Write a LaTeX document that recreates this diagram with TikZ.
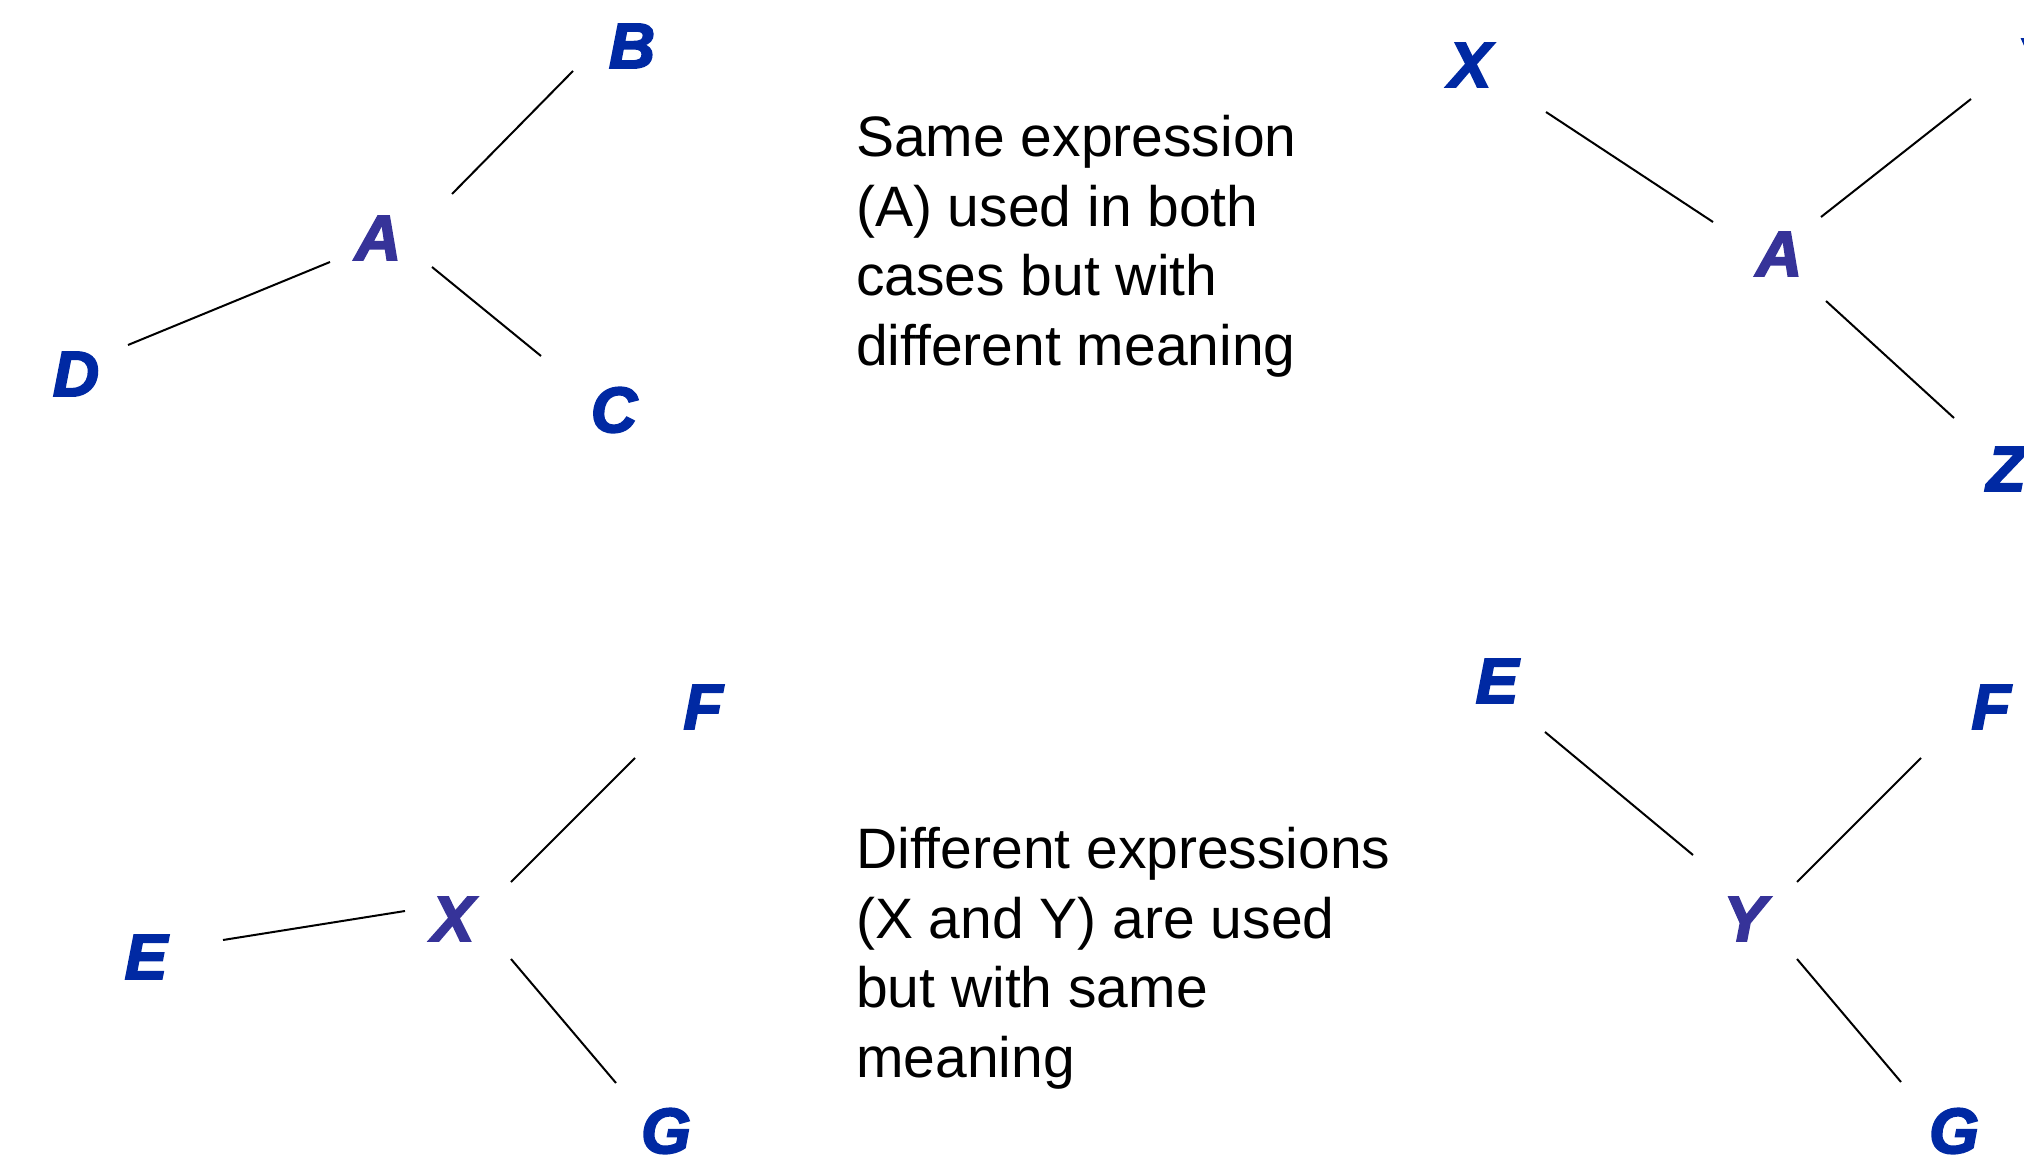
\documentclass[tikz,border=0pt]{standalone}
\usepackage{fontspec}
\setmainfont{Liberation Sans}
\newfontfamily\letterfont{Liberation Sans Bold Italic}[FakeBold=3]
\definecolor{outerblue}{HTML}{0029A3}
\definecolor{innerblue}{HTML}{363399}
\tikzset{
  outer/.style={inner sep=0pt, text=outerblue, font=\fontsize{64}{64}\letterfont},
  inner/.style={inner sep=0pt, text=innerblue, font=\fontsize{64}{64}\letterfont},
  link/.style={line width=2pt, black},
  note/.style={inner sep=0pt, anchor=north west, align=left, font=\fontsize{57}{69.7}\selectfont}
}
\begin{document}
\begin{tikzpicture}[x=1pt,y=-1pt]
\useasboundingbox (0,0) rectangle (2024,1158);
\clip (0,0) rectangle (2024,1158);
% top left
\node[inner] (tlA) at (378,238) {A};
\node[outer] (tlB) at (632,46) {B};
\node[outer] (tlD) at (76,374) {D};
\node[outer] (tlC) at (614,410) {C};
\draw[link] ([shift={(74,-44)}]tlA.center) -- ([shift={(-59,25)}]tlB.center);
\draw[link] ([shift={(-48,24)}]tlA.center) -- ([shift={(52,-29)}]tlD.center);
\draw[link] ([shift={(54,29)}]tlA.center) -- ([shift={(-73,-54)}]tlC.center);
% top right
\node[outer] (trX) at (1470,65) {X};
\node[inner] (trA) at (1779,254) {A};
\node[outer] (trY) at (2038,61) {Y};
\node[outer] (trZ) at (2006,469) {Z};
\draw[link] ([shift={(76,47)}]trX.center) -- ([shift={(-66,-32)}]trA.center);
\draw[link] ([shift={(42,-37)}]trA.center) -- ([shift={(-67,38)}]trY.center);
\draw[link] ([shift={(47,47)}]trA.center) -- ([shift={(-52,-51)}]trZ.center);
% bottom left
\node[inner] (blX) at (453,919) {X};
\node[outer] (blF) at (703,707) {F};
\node[outer] (blE) at (146,957) {E};
\node[outer] (blG) at (666,1131) {G};
\draw[link] ([shift={(58,-37)}]blX.center) -- ([shift={(-68,51)}]blF.center);
\draw[link] ([shift={(-48,-8)}]blX.center) -- ([shift={(77,-17)}]blE.center);
\draw[link] ([shift={(58,40)}]blX.center) -- ([shift={(-50,-48)}]blG.center);
% bottom right
\node[outer] (brE) at (1497,681) {E};
\node[outer] (brF) at (1991,707) {F};
\node[inner] (brY) at (1745,919) {Y};
\node[outer] (brG) at (1954,1131) {G};
\draw[link] ([shift={(48,51)}]brE.center) -- ([shift={(-52,-64)}]brY.center);
\draw[link] ([shift={(52,-37)}]brY.center) -- ([shift={(-70,51)}]brF.center);
\draw[link] ([shift={(52,40)}]brY.center) -- ([shift={(-53,-49)}]brG.center);
% texts
\node[note] (t1) at (856,115) {Same expression\\(A) used in both\\cases but with\\different meaning};
\node[note] (t2) at (856,827) {Different expressions\\(X and Y) are used\\but with same\\meaning};
\end{tikzpicture}
\end{document}
